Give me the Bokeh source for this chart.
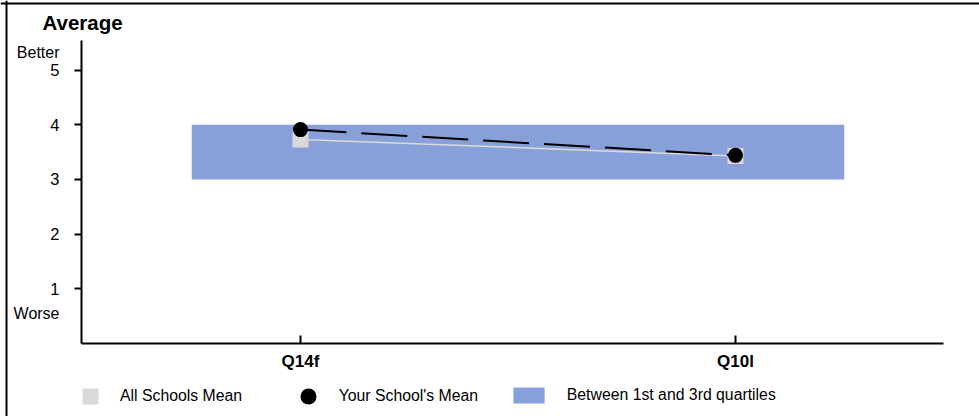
from bokeh.plotting import figure
from bokeh.models import (Range1d, FixedTicker, Label, Legend, LegendItem,
                          LinearAxis, Span)
from bokeh.embed import file_html
from bokeh.resources import INLINE

# ---- data ----
questions = ["Q14f", "Q10l"]
school_mean = [3.91, 3.44]
all_schools_mean = [3.73, 3.43]
quartile_1 = [3.0, 3.0]
quartile_3 = [4.0, 4.0]
y_ticks = [1, 2, 3, 4, 5]

x_pos = list(range(1, len(questions) + 1))
FONT = "Liberation Sans"

# plot area bounds (data units) for the axes
X_LO, X_HI = 0.4966, 2.478
Y_LO, Y_HI = 0.0, 5.54

p = figure(width=979, height=416, output_backend="svg", toolbar_location=None,
           title=None, x_range=Range1d(0.310345, 2.56092),
           y_range=Range1d(-1.33455, 6.27057),
           x_axis_location=None, y_axis_location=None, min_border=0)
p.outline_line_color = None
p.grid.visible = False

# frame of the whole picture (left and top edges)
p.add_layout(Span(location=0.32414, dimension="height", line_color="black", line_width=2))
p.add_layout(Span(location=6.2157, dimension="width", line_color="black", line_width=2))

band = p.quad(left=[x_pos[0] - 0.25], right=[x_pos[-1] + 0.25],
              bottom=[min(quartile_1)], top=[max(quartile_3)],
              fill_color="#88A0DA", line_color=None)
all_line = p.line(x_pos, all_schools_mean, line_color="#DADADA", line_width=1.5)
all_pts = p.scatter(x_pos, all_schools_mean, marker="square", size=16,
                    fill_color="#D9D9D9", line_color=None)
school_line = p.line(x_pos, school_mean, line_color="black", line_width=2,
                     line_dash="46 15")
school_pts = p.scatter(x_pos, school_mean, marker="circle", size=15,
                       fill_color="black", line_color=None)

# axes drawn at fixed locations inside the canvas
xa = LinearAxis(fixed_location=Y_LO, bounds=(X_LO, X_HI),
                ticker=FixedTicker(ticks=x_pos),
                major_label_overrides={x: q for x, q in zip(x_pos, questions)})
xa.major_tick_in = 8
xa.major_tick_out = 0
xa.minor_tick_line_color = None
xa.axis_line_width = 2
xa.major_tick_line_width = 2
xa.major_label_text_font = FONT
xa.major_label_text_font_size = "17px"
xa.major_label_text_font_style = "bold"
xa.major_label_text_color = "black"
xa.major_label_standoff = 8
p.add_layout(xa, "below")

ya = LinearAxis(fixed_location=X_LO, bounds=(Y_LO, Y_HI),
                ticker=FixedTicker(ticks=y_ticks))
ya.major_tick_in = 0
ya.major_tick_out = 7
ya.minor_tick_line_color = None
ya.axis_line_width = 2
ya.major_tick_line_width = 2
ya.major_label_text_font = FONT
ya.major_label_text_font_size = "16.5px"
ya.major_label_text_color = "black"
ya.major_label_standoff = 15
p.add_layout(ya, "left")

# texts (screen px from the canvas' bottom-left)
p.add_layout(Label(x=42, y=394, x_units="screen", y_units="screen", text="Average",
                   text_font=FONT, text_font_size="20.5px", text_font_style="bold",
                   text_baseline="middle", text_align="left", text_color="black"))
p.add_layout(Label(x=59, y=364, x_units="screen", y_units="screen", text="Better",
                   text_font=FONT, text_font_size="16px", text_baseline="middle",
                   text_align="right", text_color="black"))
p.add_layout(Label(x=59, y=103, x_units="screen", y_units="screen", text="Worse",
                   text_font=FONT, text_font_size="16px", text_baseline="middle",
                   text_align="right", text_color="black"))

# legends
common = dict(padding=0, margin=0, spacing=0, border_line_color=None,
              background_fill_alpha=0, label_text_font=FONT,
              label_text_font_size="15.8px", label_text_color="black")
leg1 = Legend(items=[LegendItem(label="All Schools Mean", renderers=[all_pts])],
              location=(70, 0.5), glyph_width=40, glyph_height=40,
              label_standoff=10, **common)
leg2 = Legend(items=[LegendItem(label="Your School's Mean", renderers=[school_pts])],
              location=(287.7, 0), glyph_width=40, glyph_height=40,
              label_standoff=11, **common)
leg3 = Legend(items=[LegendItem(label="Between 1st and 3rd quartiles", renderers=[band])],
              location=(508.8, 10.7), glyph_width=39, glyph_height=20,
              label_standoff=19, **common)
for lg in (leg1, leg2, leg3):
    p.add_layout(lg)

open("out.html", "w").write(file_html(p, INLINE))
